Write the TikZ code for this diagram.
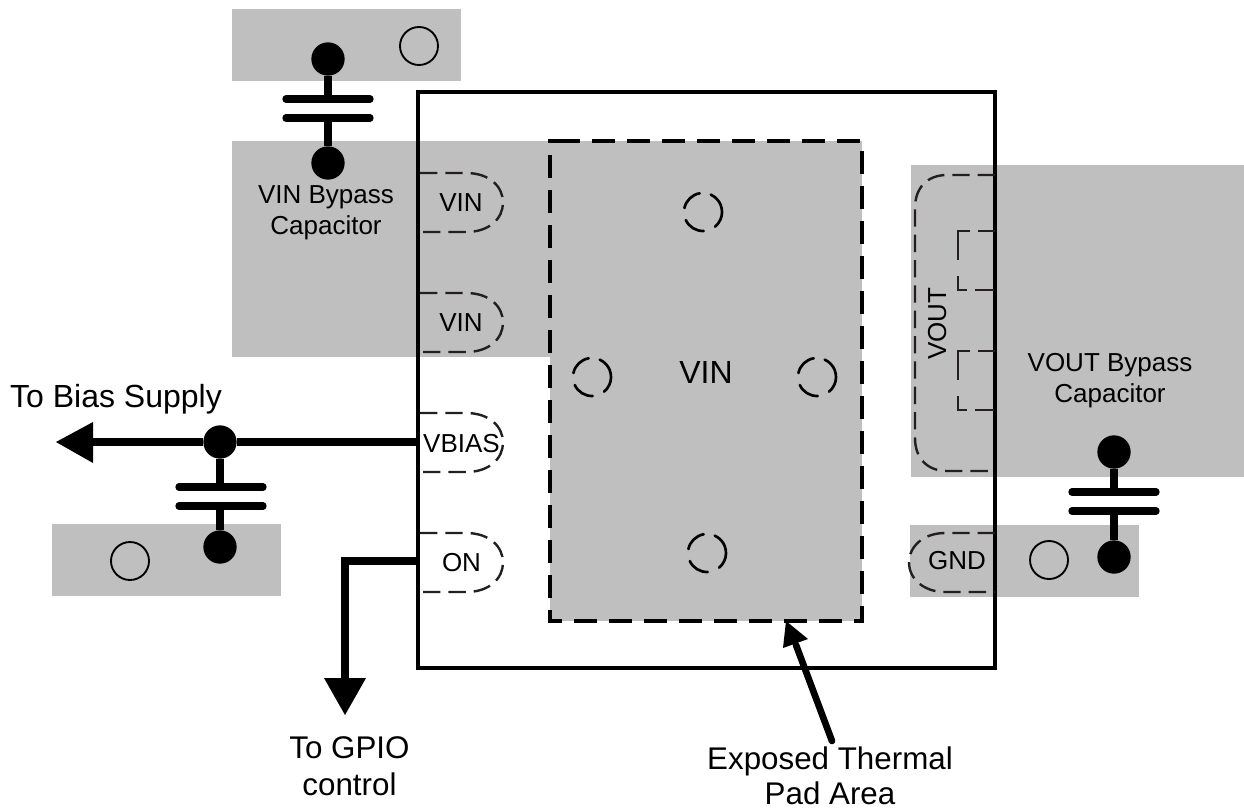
\documentclass[tikz,border=0pt]{standalone}
\usepackage{fontspec}
\setmainfont{Liberation Sans}
\definecolor{padgray}{HTML}{BFBFBF}
\definecolor{dashink}{HTML}{231F20}
\tikzset{
  x=0.75pt,y=-0.75pt,
  graybox/.style={fill=padgray,draw=none},
  outline/.style={draw=black,line width=3pt},
  heavy/.style={draw=black,line width=6pt},
  stub/.style={draw=black,line width=5.5pt},
  plate/.style={draw=black,line width=5.5pt,line cap=round},
  dot/.style={circle,fill=black,draw=none,minimum size=25pt,inner sep=0pt,outer sep=0pt},
  via/.style={circle,draw=black,line width=1.4pt,minimum size=28.5pt,inner sep=0pt},
  dvia/.style={circle,draw=none,minimum size=28.5pt,inner sep=0pt,outer sep=0pt},
  viaarc/.style={draw=black,line width=2pt,line cap=round},
  padline/.style={draw=dashink,line width=1.8pt,dash pattern=on 13pt off 6pt},
  notch/.style={draw=dashink,line width=1.5pt,dash pattern=on 12.75pt off 6pt on 30.75pt off 12pt on 17.25pt off 6pt on 14pt},
  thermdash/.style={draw=black,line width=2.5pt,dash pattern=on 17.5pt off 8.75pt},
  lab/.style={font=\fontsize{19.5pt}{23.25pt}\selectfont,align=center,inner sep=0pt,text=black},
  big/.style={font=\fontsize{24pt}{28pt}\selectfont,align=center,inner sep=0pt,text=black},
  arrowfill/.style={fill=black,draw=none},
}
\newcommand{\viaarcs}[1]{%
  \draw[viaarc] (#1.168) arc[start angle=168,end angle=100,radius=14.25pt];
  \draw[viaarc] (#1.66) arc[start angle=66,end angle=-51,radius=14.25pt];
  \draw[viaarc] (#1.205) arc[start angle=205,end angle=272,radius=14.25pt];
}
\begin{document}
\begin{tikzpicture}
\useasboundingbox (0,0) rectangle (1244,811);
% gray copper
\fill[graybox] (232,9) rectangle (461,81);
\fill[graybox] (232,141) rectangle (550,357);
\fill[graybox] (550,141) rectangle (862,621);
\fill[graybox] (911,165) rectangle (1244,477);
\fill[graybox] (910,525) rectangle (1139,597);
\fill[graybox] (52,524) rectangle (281,596);
% vias
\node[via] (v1) at (419,46) {};
\node[via] (v2) at (130,561) {};
\node[via] (v3) at (1049,560) {};
\node[dvia] (d1) at (703,212) {};
\node[dvia] (d2) at (592,377) {};
\node[dvia] (d3) at (817,377) {};
\node[dvia] (d4) at (707,553) {};
\viaarcs{d1}\viaarcs{d2}\viaarcs{d3}\viaarcs{d4}
% package
\draw[outline] (418,92) rectangle (995,668);
% thermal pad
\draw[thermdash] (557,141) -- (862,141) -- (862,621) -- (550,621) -- (550,141) -- (557,141);
% left pads
\foreach \t in {173,293,413,533}{
  \draw[padline] (420,\t) -- (466,\t) .. controls (490,\t) and (503,\t+14) .. (503,\t+29.5)
     .. controls (503,\t+45) and (490,\t+59) .. (466,\t+59) -- (420,\t+59);
}
% VOUT pad
\draw[padline] (995,175) -- (947,175) .. controls (927,175) and (915,188) .. (915,208)
  -- (915,438) .. controls (915,458) and (927,471) .. (947,471) -- (995,471);
\draw[notch] (995,231) -- (958,231) -- (958,290) -- (995,290);
\draw[notch] (995,351) -- (958,351) -- (958,410) -- (995,410);
% GND pad
\draw[padline] (995,533) -- (945,533) .. controls (924,533) and (909,546) .. (909,562.5)
  .. controls (909,579) and (924,592) .. (945,592) -- (995,592);
% top capacitor
\node[dot] (c1a) at (328,59) {};
\node[dot] (c1b) at (328,163) {};
\coordinate (c1p) at (328,99);
\coordinate (c1q) at (328,118);
\draw[stub] (c1a) -- (c1p);
\draw[stub] (c1q) -- (c1b);
\draw[plate] (286,99) -- (370,99);
\draw[plate] (286,118) -- (370,118);
% left capacitor
\node[dot] (c2a) at (220,442) {};
\node[dot] (c2b) at (220,547) {};
\coordinate (c2p) at (220,487);
\coordinate (c2q) at (220,506);
\draw[stub] (c2a) -- (c2p);
\draw[stub] (c2q) -- (c2b);
\draw[plate] (179,487) -- (263,487);
\draw[plate] (179,506) -- (263,506);
% right capacitor
\node[dot] (c3a) at (1114,452) {};
\node[dot] (c3b) at (1114,557) {};
\coordinate (c3p) at (1114,492);
\coordinate (c3q) at (1114,511);
\draw[stub] (c3a) -- (c3p);
\draw[stub] (c3q) -- (c3b);
\draw[plate] (1072,492) -- (1156,492);
\draw[plate] (1072,511) -- (1156,511);
% connectors
\coordinate (bias) at (418,442);
\coordinate (biasend) at (92,442);
\draw[heavy] (bias) -- (c2a) -- (biasend);
\fill[arrowfill] (56,442) -- (93,422) -- (93,463) -- cycle;
\coordinate (on) at (418,561);
\coordinate (oncorner) at (345,561);
\coordinate (onend) at (345,680);
\draw[heavy,line join=miter] (on) -- (oncorner) -- (onend);
\fill[arrowfill] (345,715) -- (324,678) -- (366,678) -- cycle;
\coordinate (thtail) at (832,741);
\coordinate (thhead) at (796,645);
\draw[draw=black,line width=5pt,line cap=round] (thtail) -- (thhead);
\fill[arrowfill] (786,621) -- (808,639) -- (783,648) -- cycle;
% labels
\node[lab,anchor=base] (tvin1) at (461,211.5) {VIN};
\node[lab,anchor=base] (tvin2) at (461,331.5) {VIN};
\node[lab,anchor=base] (tbias) at (461.5,452) {VBIAS};
\node[lab,anchor=base] (ton) at (461.5,571) {ON};
\node[lab,anchor=base] (tgnd) at (957,569) {GND};
\node[lab,anchor=base,rotate=90] (tvout) at (946,323.5) {VOUT};
\node[big,anchor=base] (tvin) at (706,383) {VIN};
\node[lab] (tvc) at (326,213) {VIN Bypass\\Capacitor};
\node[lab] (tvo) at (1110,381) {VOUT Bypass\\Capacitor};
\node[big,anchor=base] (tb) at (116,407) {To Bias Supply};
\node[big,font=\fontsize{23.5pt}{28pt}\selectfont] (tg) at (349.5,766.5) {To GPIO\\control};
\node[big,font=\fontsize{23.5pt}{26.5pt}\selectfont] (tt) at (830,775.5) {Exposed Thermal\\Pad Area};
\end{tikzpicture}
\end{document}
